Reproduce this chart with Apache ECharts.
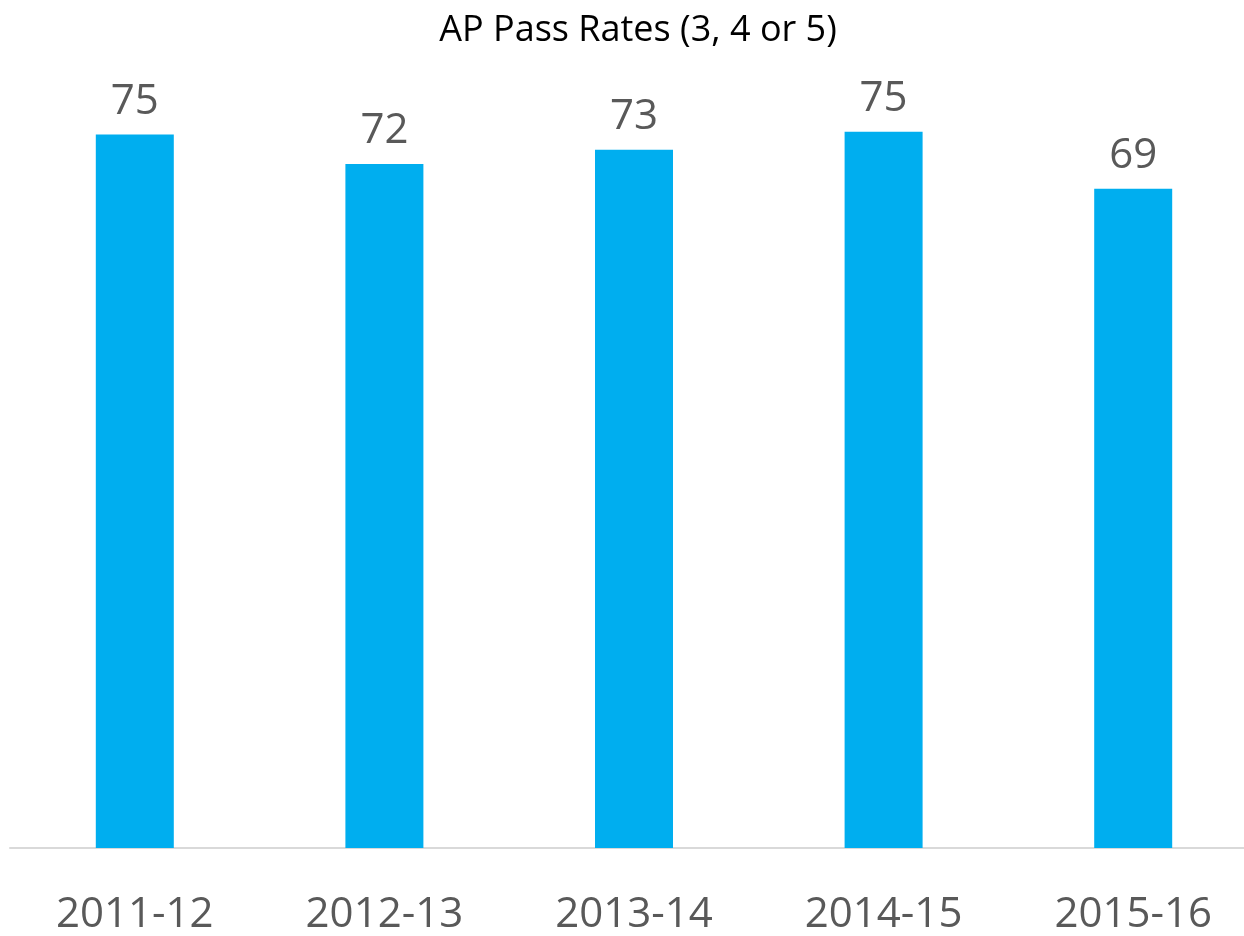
<!DOCTYPE html>
<html>
<head>
<meta charset="utf-8">
<script src="https://cdn.jsdelivr.net/npm/echarts@6/dist/echarts.min.js"></script>
<style>
html,body{margin:0;padding:0;background:#fff;overflow:hidden}
#wrap{width:1244px;height:936px;overflow:hidden;position:relative}
#chart{width:1258px;height:936px}
</style>
</head>
<body>
<div id="wrap"><div id="chart"></div></div>
<script>
var title = 'AP Pass Rates (3, 4 or 5)'
var years = ['2011-12','2012-13','2013-14','2014-15','2015-16']
var passRates = [75, 71.9, 73.4, 75.3, 69.3]

// the chart is a bit wider than the window, last category is cut at the edge like the source
var chart = echarts.init(document.getElementById('chart'))
chart.setOption({
    animation:false,
    title:{
        text:title,
        left:633,
        textAlign:'center',
        top:8,
        textStyle:{fontFamily:'Open Sans',fontSize:36,fontWeight:'normal',color:'#000'}
    },
    grid:{left:10,right:0,top:87,bottom:83},
    xAxis:{
        type:'category',
        data:years,
        axisLine:{lineStyle:{color:'#d9d9d9',width:2}},
        axisTick:{show:false},
        axisLabel:{fontFamily:'Open Sans',fontSize:42,color:'#595959',margin:46}
    },
    yAxis:{
        type:'value',
        min:0,
        max:80,
        show:false
    },
    series:[{
        type:'bar',
        data:passRates,
        barWidth:'31.25%',
        itemStyle:{color:'#00aeef'},
        label:{
            show:true,
            position:'top',
            distance:12,
            fontFamily:'Open Sans',
            fontSize:42,
            color:'#595959',
            formatter:function(p){return Math.round(p.value)}
        }
    }]
})
</script>
</body>
</html>
